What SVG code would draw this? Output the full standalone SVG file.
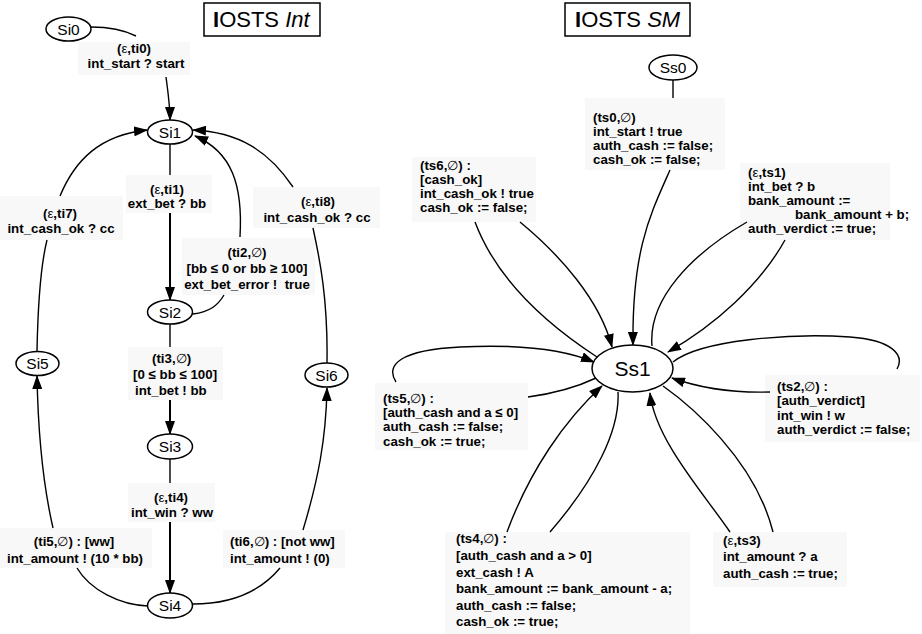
<svg xmlns="http://www.w3.org/2000/svg" width="922" height="634" viewBox="0 0 922 634">
<defs>
<marker id="ah" markerUnits="userSpaceOnUse" markerWidth="14" markerHeight="10" refX="13" refY="5" orient="auto"><path d="M0,0 L14,5 L0,10 z" fill="#000"/></marker>
</defs>
<style>
.n ellipse{fill:#fff;stroke:#000;stroke-width:1.5}
.n text{font-family:"Liberation Sans",Arial,sans-serif;font-size:15.5px;text-anchor:middle}
.e path{fill:none;stroke:#000;stroke-width:1.4}
.e .a{marker-end:url(#ah)}
.e .t{stroke-width:2}
.lb rect{fill:#f8f8f8}
.lb text{font-family:"Liberation Sans",Arial,sans-serif;font-size:13.3px;font-weight:bold}
.lb .c{text-anchor:middle}
.s{font-weight:normal}
.title rect{fill:#fff;stroke:#000;stroke-width:1.5}
.title text{font-family:"Liberation Sans",Arial,sans-serif;font-size:22px}
</style>
<rect width="922" height="634" fill="#fff"/>

<g class="title" id="title-int">
<rect x="204" y="3" width="116" height="33"/>
<text x="213" y="27"><tspan font-weight="bold">I</tspan>OSTS <tspan font-style="italic">Int</tspan></text>
</g>
<g class="title" id="title-sm">
<rect x="565" y="3" width="125" height="33"/>
<text x="575" y="27"><tspan font-weight="bold">I</tspan>OSTS <tspan font-style="italic">SM</tspan></text>
</g>

<g class="lb" id="labels">
<rect x="78" y="42" width="112" height="33"/>
<text class="c" x="134" y="53">(<tspan class="s">ε</tspan>,ti0)</text>
<text class="c" x="136" y="68">int_start ? start</text>
<rect x="126" y="175" width="86" height="38"/>
<text class="c" x="167" y="194">(<tspan class="s">ε</tspan>,ti1)</text>
<text class="c" x="167" y="208">ext_bet ? bb</text>
<rect x="182" y="238" width="133" height="57"/>
<text class="c" x="247" y="257">(ti2,<tspan class="s">∅</tspan>)</text>
<text class="c" x="247" y="273">[bb ≤ 0 or bb ≥ 100]</text>
<text class="c" x="247" y="289">ext_bet_error !&#160; true</text>
<rect x="0" y="196" width="123" height="44"/>
<text class="c" x="60" y="218">(<tspan class="s">ε</tspan>,ti7)</text>
<text class="c" x="61" y="233">int_cash_ok ? cc</text>
<rect x="253" y="187" width="127" height="41"/>
<text class="c" x="318" y="206">(<tspan class="s">ε</tspan>,ti8)</text>
<text class="c" x="317" y="222">int_cash_ok ? cc</text>
<rect x="128" y="347" width="95" height="53"/>
<text x="152" y="363">(ti3,<tspan class="s">∅</tspan>)</text>
<text x="133" y="379">[0 ≤ bb ≤ 100]</text>
<text x="135" y="395">int_bet ! bb</text>
<rect x="128" y="483" width="87" height="39"/>
<text class="c" x="171" y="502">(<tspan class="s">ε</tspan>,ti4)</text>
<text class="c" x="172" y="517">int_win ? ww</text>
<rect x="0" y="528" width="152" height="40"/>
<text class="c" x="74" y="546">(ti5,<tspan class="s">∅</tspan>) : [ww]</text>
<text class="c" x="75" y="563">int_amount ! (10 * bb)</text>
<rect x="223" y="530" width="122" height="38"/>
<text x="230" y="546">(ti6,<tspan class="s">∅</tspan>) : [not ww]</text>
<text x="230" y="563">int_amount ! (0)</text>

<rect x="585" y="98" width="140" height="72"/>
<text x="593" y="122">(ts0,<tspan class="s">∅</tspan>)</text>
<text x="593" y="136">int_start ! true</text>
<text x="593" y="150">auth_cash := false;</text>
<text x="593" y="164">cash_ok := false;</text>
<rect x="412" y="157" width="124" height="65"/>
<text x="420" y="170">(ts6,<tspan class="s">∅</tspan>) :</text>
<text x="420" y="184">[cash_ok]</text>
<text x="420" y="198">int_cash_ok ! true</text>
<text x="420" y="212">cash_ok := false;</text>
<rect x="740" y="163" width="150" height="77"/>
<text x="748" y="177">(<tspan class="s">ε</tspan>,ts1)</text>
<text x="748" y="191">int_bet ? b</text>
<text x="748" y="205">bank_amount :=</text>
<text x="795" y="219">bank_amount + b;</text>
<text x="748" y="233">auth_verdict := true;</text>
<rect x="375" y="383" width="153" height="67"/>
<text x="383" y="403">(ts5,<tspan class="s">∅</tspan>) :</text>
<text x="383" y="417">[auth_cash and a ≤ 0]</text>
<text x="383" y="431">auth_cash := false;</text>
<text x="383" y="446">cash_ok := true;</text>
<rect x="765" y="375" width="155" height="67"/>
<text x="777" y="391">(ts2,<tspan class="s">∅</tspan>) :</text>
<text x="777" y="405">[auth_verdict]</text>
<text x="777" y="420">int_win ! w</text>
<text x="777" y="434">auth_verdict := false;</text>
<rect x="445" y="532" width="245" height="102"/>
<text x="456" y="543">(ts4,<tspan class="s">∅</tspan>) :</text>
<text x="456" y="560">[auth_cash and a &gt; 0]</text>
<text x="456" y="577">ext_cash ! A</text>
<text x="456" y="593">bank_amount := bank_amount - a;</text>
<text x="456" y="610">auth_cash := false;</text>
<text x="456" y="626">cash_ok := true;</text>
<rect x="713" y="532" width="134" height="55"/>
<text x="723" y="545">(<tspan class="s">ε</tspan>,ts3)</text>
<text x="723" y="561">int_amount ? a</text>
<text x="723" y="578">auth_cash := true;</text>
</g>

<g class="e" id="connectors">
<path d="M91 27 C110 27 124 30 136 36"/>
<path class="a" d="M166 77 C168 92 170 105 170 120"/>
<path d="M170 144 L170 175"/>
<path class="a t" d="M170 213 L170 300"/>
<path d="M193 314 C210 312 218 305 224 295"/>
<path class="a" d="M240 237 C243 185 232 152 195 136"/>
<path d="M170 324 L170 347"/>
<path class="a t" d="M170 400 L170 434"/>
<path d="M170 459 L170 483"/>
<path class="a t" d="M170 522 L170 593"/>
<path d="M148 606 C120 605 90 590 77 568"/>
<path class="a" d="M53 528 C42 480 38 430 37 376"/>
<path d="M193 604 C230 604 260 592 280 568"/>
<path class="a" d="M303 530 C318 480 326 440 327 388"/>
<path d="M37 351 C38 300 42 260 47 240"/>
<path class="a" d="M60 196 C75 160 100 135 147 130"/>
<path d="M327 363 C328 300 320 260 313 228"/>
<path class="a" d="M293 187 C268 150 238 132 193 130"/>

<path d="M673 80 L673 98"/>
<path class="a" d="M670 170 C650 215 632 250 633 345"/>
<path d="M597 357 C540 320 495 275 475 222"/>
<path class="a" d="M520 222 C560 255 600 300 612 347"/>
<path d="M652 346 C648 300 690 255 747 222"/>
<path class="a" d="M785 240 C760 285 715 325 668 352"/>
<path d="M673 362 C700 340 790 333 850 337 C892 340 905 355 897 369"/>
<path class="a" d="M770 392 C735 393 700 388 672 378"/>
<path class="a" d="M396 382 C385 365 400 350 460 347 C520 344 565 350 594 362"/>
<path d="M596 378 C575 388 550 394 528 397"/>
<path class="a" d="M507 532 C530 470 565 420 602 386"/>
<path d="M618 392 C620 430 595 480 550 532"/>
<path class="a" d="M730 532 C705 495 655 440 650 393"/>
<path d="M663 386 C690 405 755 460 773 532"/>
</g>

<g class="n" id="Si0"><ellipse cx="68.5" cy="29" rx="22.5" ry="12"/><text x="68.5" y="34.5">Si0</text></g>
<g class="n" id="Si1"><ellipse cx="170" cy="132" rx="22.5" ry="12"/><text x="170" y="137.5">Si1</text></g>
<g class="n" id="Si2"><ellipse cx="170" cy="312" rx="22.5" ry="12"/><text x="170" y="317.5">Si2</text></g>
<g class="n" id="Si3"><ellipse cx="170" cy="446.5" rx="22.5" ry="12.5"/><text x="170" y="452">Si3</text></g>
<g class="n" id="Si4"><ellipse cx="170" cy="605.5" rx="22.5" ry="12.5"/><text x="170" y="611">Si4</text></g>
<g class="n" id="Si5"><ellipse cx="37.5" cy="363.5" rx="21.5" ry="12"/><text x="37.5" y="369">Si5</text></g>
<g class="n" id="Si6"><ellipse cx="326.5" cy="375" rx="21.5" ry="12"/><text x="326.5" y="380.5">Si6</text></g>
<g class="n" id="Ss0"><ellipse cx="673" cy="67.5" rx="24" ry="12.5"/><text x="673" y="73">Ss0</text></g>
<g class="n" id="Ss1"><ellipse cx="632.5" cy="368.5" rx="40.5" ry="23.5"/><text x="632.5" y="376" style="font-size:21px">Ss1</text></g>
</svg>
